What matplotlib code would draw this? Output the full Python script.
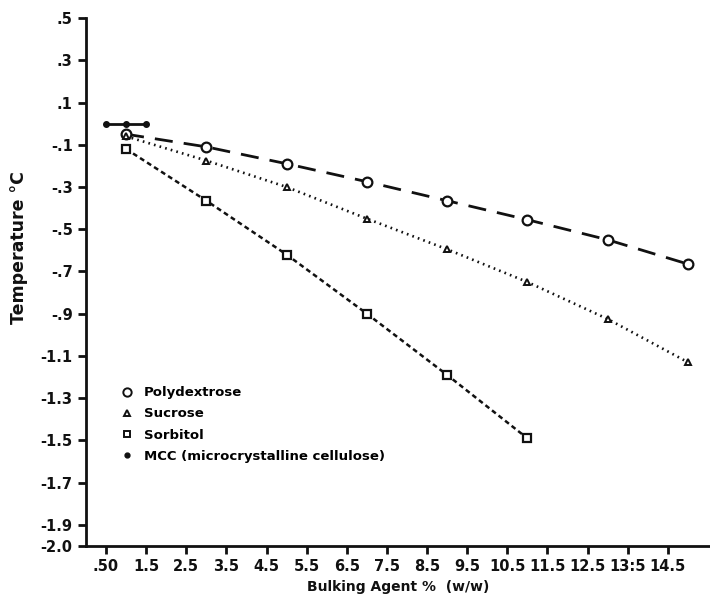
import numpy as np
import matplotlib.pyplot as plt
from matplotlib.lines import Line2D

plt.rcParams['font.family'] = 'DejaVu Sans'
plt.rcParams['lines.scale_dashes'] = False

# data
poly_x = [1, 3, 5, 7, 9, 11, 13, 15]
poly_y = [-0.05, -0.11, -0.19, -0.275, -0.365, -0.455, -0.55, -0.665]

sucr_x = [1, 3, 5, 7, 9, 11, 13, 15]
sucr_y = [-0.06, -0.175, -0.30, -0.45, -0.595, -0.75, -0.925, -1.13]

sorb_x = [1, 3, 5, 7, 9, 11]
sorb_y = [-0.12, -0.365, -0.62, -0.90, -1.19, -1.49]

mcc_x = [0.5, 1.0, 1.5]
mcc_y = [0.0, 0.0, 0.0]

xticks = [0.5, 1.5, 2.5, 3.5, 4.5, 5.5, 6.5, 7.5, 8.5, 9.5, 10.5, 11.5, 12.5, 13.5, 14.5]
xlabels = ['.50', '1.5', '2.5', '3.5', '4.5', '5.5', '6.5', '7.5', '8.5', '9.5',
           '10.5', '11.5', '12.5', '13:5', '14.5']
yticks = [0.5, 0.3, 0.1, -0.1, -0.3, -0.5, -0.7, -0.9, -1.1, -1.3, -1.5, -1.7, -1.9, -2.0]
ylabels = ['.5', '.3', '.1', '-.1', '-.3', '-.5', '-.7', '-.9', '-1.1', '-1.3', '-1.5',
           '-1.7', '-1.9', '-2.0']

fig = plt.figure(figsize=(7.1, 6.01), dpi=100)
ax = fig.add_axes([0.121, 0.0915, 0.879, 0.8785])

k = '#111111'
ax.plot(poly_x, poly_y, color=k, lw=2.0, dashes=(13, 8), marker='o', ms=7,
        mfc='white', mec=k, mew=1.6)
ax.plot(sucr_x, sucr_y, color=k, lw=1.9, dashes=(1.2, 3.0), marker='^', ms=4,
        mfc='white', mec=k, mew=1.4)
ax.plot(sorb_x, sorb_y, color=k, lw=1.8, dashes=(3.5, 2.5), marker='s', ms=5.5,
        mfc='white', mec=k, mew=1.6)
ax.plot(mcc_x, mcc_y, color=k, lw=2.0, marker='o', ms=4, mfc=k, mec=k)

ax.set_xlim(0, 15.55)
ax.set_ylim(-2.0, 0.5)
ax.set_xticks(xticks)
ax.set_xticklabels(xlabels)
ax.set_yticks(yticks)
ax.set_yticklabels(ylabels)

for s in ['top', 'right']:
    ax.spines[s].set_visible(False)
for s in ['left', 'bottom']:
    ax.spines[s].set_linewidth(2.0)
    ax.spines[s].set_color(k)
ax.tick_params(axis='both', direction='out', width=2.0, length=6, colors=k,
               labelsize=10.5)
for lbl in ax.get_xticklabels() + ax.get_yticklabels():
    lbl.set_fontweight('bold')

ax.set_xlabel('Bulking Agent %  (w/w)', fontsize=10, fontweight='bold', color=k)
ax.set_ylabel('Temperature °C', fontsize=12.5, fontweight='bold', color=k)
ax.yaxis.set_label_coords(-0.093, 0.566)
ax.xaxis.set_label_coords(0.5, -0.065)

handles = [
    Line2D([], [], ls='none', marker='o', ms=6, mfc='white', mec=k, mew=1.4),
    Line2D([], [], ls='none', marker='^', ms=5, mfc='white', mec=k, mew=1.4),
    Line2D([], [], ls='none', marker='s', ms=5, mfc='white', mec=k, mew=1.4),
    Line2D([], [], ls='none', marker='o', ms=3.5, mfc=k, mec=k),
]
labels = ['Polydextrose', 'Sucrose', 'Sorbitol', 'MCC (microcrystalline cellulose)']
leg = ax.legend(handles, labels, loc='upper left', bbox_to_anchor=(0.037, 0.325),
                frameon=False, handlelength=1.0, handletextpad=0.75,
                labelspacing=0.62, prop={'size': 9.5, 'weight': 'bold'})

fig.savefig('out.png', dpi=100)
